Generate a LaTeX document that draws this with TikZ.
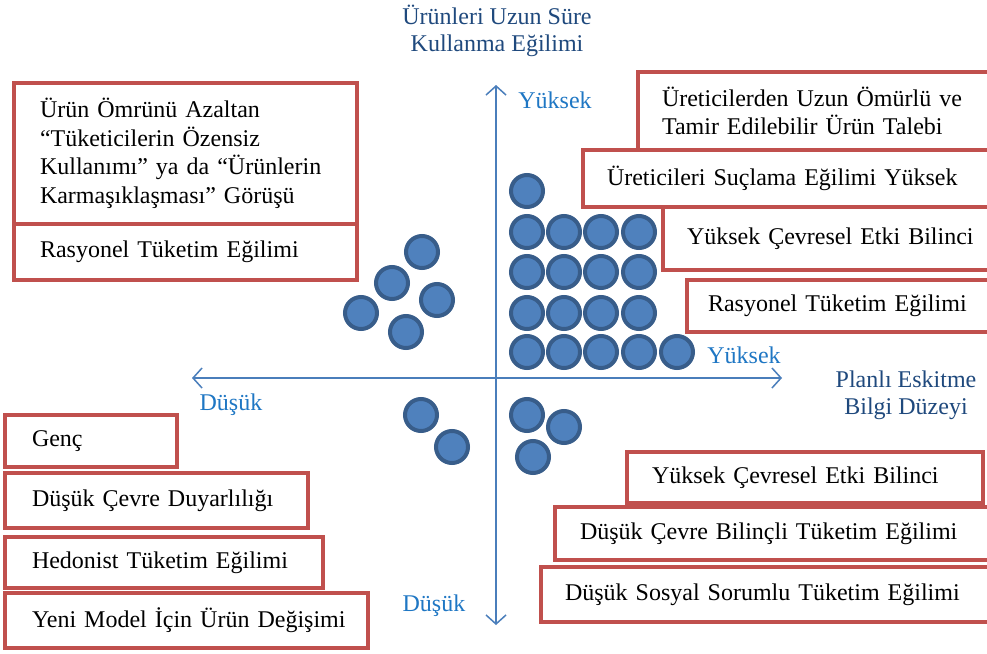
\documentclass[tikz,border=0pt]{standalone}
\usepackage{fontspec}
\setmainfont{Liberation Serif}
\usetikzlibrary{arrows.meta}
\definecolor{boxred}{HTML}{C0504D}
\definecolor{dotfill}{HTML}{4F81BD}
\definecolor{dotline}{HTML}{385D8A}
\definecolor{axisblue}{HTML}{4A7EBB}
\definecolor{titleblue}{HTML}{1F497D}
\definecolor{lvlblue}{HTML}{1F77C4}
\newcommand{\nb}[1]{\mbox{#1}}
\begin{document}
\begin{tikzpicture}[x=1pt,y=-1pt,
  every node/.style={font=\fontsize{24}{28.5}\selectfont},
  box/.style={draw=boxred, line width=4pt, fill=white, align=left, inner ysep=0pt},
  dot/.style={circle, fill=dotfill, draw=dotline, line width=4pt, minimum size=32pt, inner sep=0pt},
  axis/.style={draw=axisblue, line width=1.5pt, {Straight Barb[length=9pt,width=20pt]}-{Straight Barb[length=9pt,width=20pt]}},
  lvl/.style={text=lvlblue, inner sep=0pt},
  ttl/.style={text=titleblue, align=center, inner sep=0pt, font=\fontsize{24}{27}\selectfont},
]
\useasboundingbox (0,0) rectangle (987,653);
\clip (0,0) rectangle (987,653);
\fill[white] (0,0) rectangle (987,653);

% axes
\coordinate (vt) at (496,85);
\coordinate (vb) at (496,625);
\coordinate (hl) at (192,378);
\coordinate (hr) at (782,378);
\draw[axis] (vb) -- (vt);
\draw[axis] (hl) -- (hr);

% axis labels
\node[ttl] (ttop) at (497,31) {Ürünleri Uzun Süre\\Kullanma Eğilimi};
\node[ttl] (tright) at (906,395) {Planlı Eskitme\\Bilgi Düzeyi};
\node[lvl] (ytop) at (555,100) {Yüksek};
\node[lvl] (yright) at (744,355) {Yüksek};
\node[lvl] (dleft) at (231,405) {Düşük};
\node[lvl] (dbottom) at (434,606) {Düşük};

% top-left boxes
\node[box, minimum width=343pt, minimum height=56pt, inner xsep=26pt, text width=291pt] (tl2) at (185.5,252) {\nb{Rasyonel Tüketim Eğilimi}};
\node[box, minimum width=343pt, minimum height=141pt, inner xsep=26pt, text width=291pt] (tl1) at (185.5,153.5) {\nb{Ürün Ömrünü Azaltan}\\\nb{“Tüketicilerin Özensiz}\\\nb{Kullanımı” ya da “Ürünlerin}\\\nb{Karmaşıklaşması” Görüşü}};

% top-right boxes
\node[box, minimum width=372pt, minimum height=78pt, inner xsep=24pt, text width=324pt] (tra) at (824,111) {\nb{Üreticilerden Uzun Ömürlü ve}\\\nb{Tamir Edilebilir Ürün Talebi}};
\node[box, minimum width=427pt, minimum height=57pt, inner xsep=24pt, text width=379pt] (trb) at (796.5,178.5) {\nb{Üreticileri Suçlama Eğilimi Yüksek}};
\node[box, minimum width=347pt, minimum height=63pt, inner xsep=24pt, text width=299pt] (trc) at (836.5,238.5) {\nb{Yüksek Çevresel Etki Bilinci}};
\node[box, minimum width=323pt, minimum height=52pt, inner xsep=21pt, text width=281pt] (trd) at (848.5,306) {\nb{Rasyonel Tüketim Eğilimi}};

% bottom-left boxes
\node[box, minimum width=172pt, minimum height=52pt, inner xsep=27pt, text width=118pt] (bla) at (91,441) {\nb{Genç}};
\node[box, minimum width=303pt, minimum height=55pt, inner xsep=27pt, text width=249pt] (blb) at (156.5,500.5) {\nb{Düşük Çevre Duyarlılığı}};
\node[box, minimum width=318pt, minimum height=51pt, inner xsep=27pt, text width=264pt] (blc) at (164,562.5) {\nb{Hedonist Tüketim Eğilimi}};
\node[box, minimum width=363pt, minimum height=55pt, inner xsep=27pt, text width=309pt] (bld) at (186.5,620.5) {\nb{Yeni Model İçin Ürün Değişimi}};

% bottom-right boxes
\node[box, minimum width=356pt, minimum height=51pt, inner xsep=25pt, text width=306pt] (bra) at (805,477.5) {\nb{Yüksek Çevresel Etki Bilinci}};
\node[box, minimum width=455pt, minimum height=53pt, inner xsep=25pt, text width=405pt] (brb) at (782.5,533.5) {\nb{Düşük Çevre Bilinçli Tüketim Eğilimi}};
\node[box, minimum width=469pt, minimum height=55pt, inner xsep=24pt, text width=421pt] (brc) at (775.5,594.5) {\nb{Düşük Sosyal Sorumlu Tüketim Eğilimi}};

% dots: upper right quadrant
\node[dot] (q0) at (527,191) {};
\foreach \r/\yy in {1/232,2/272,3/313}{
  \foreach \c/\xx in {1/527,2/564,3/601,4/639}{
    \node[dot] (g\r\c) at (\xx,\yy) {};
  }
}
\foreach \c/\xx in {1/527,2/564,3/601,4/639,5/677}{
  \node[dot] (g4\c) at (\xx,352) {};
}
% upper left quadrant
\node[dot] (l1) at (422,252) {};
\node[dot] (l2) at (392,283) {};
\node[dot] (l3) at (361,313) {};
\node[dot] (l4) at (437,300) {};
\node[dot] (l5) at (406,332) {};
% lower left quadrant
\node[dot] (m1) at (421,415) {};
\node[dot] (m2) at (452,447) {};
% lower right quadrant
\node[dot] (n1) at (527,415) {};
\node[dot] (n2) at (564,427) {};
\node[dot] (n3) at (533,457) {};
\end{tikzpicture}
\end{document}
